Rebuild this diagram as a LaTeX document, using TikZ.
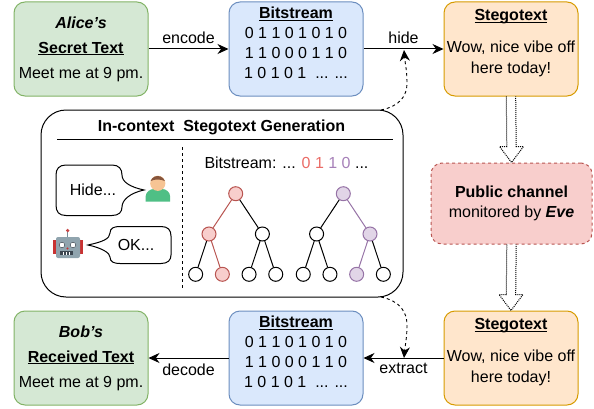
\documentclass[tikz,border=0pt]{standalone}
\usepackage{fontspec}
\setmainfont{Liberation Sans}
\usetikzlibrary{calc,arrows.meta}
\definecolor{greenfill}{HTML}{D5E8D4}
\definecolor{greenline}{HTML}{82B366}
\definecolor{bluefill}{HTML}{DAE8FC}
\definecolor{blueline}{HTML}{6C8EBF}
\definecolor{orangefill}{HTML}{FFE6CC}
\definecolor{orangeline}{HTML}{D79B00}
\definecolor{redfill}{HTML}{F8CECC}
\definecolor{redline}{HTML}{B85450}
\definecolor{purplefill}{HTML}{E1D5E7}
\definecolor{purpleline}{HTML}{9673A6}
\definecolor{redtext}{HTML}{EA6B66}
\definecolor{purpletext}{HTML}{A680B8}
\newcommand{\ultext}[1]{\underline{\smash{\textbf{#1}}}}
\begin{document}
\begin{tikzpicture}
	[x=1pt,y=1pt,>={Stealth[length=11pt,width=10pt]},line width=1pt,
	box/.style={draw,rounded corners=11pt,minimum width=134pt,minimum height=94pt,align=center,inner sep=0pt,
		font=\fontsize{16}{25}\selectfont},
	secretbox/.style={box,fill=greenfill,draw=greenline},
	bitbox/.style={box,fill=bluefill,draw=blueline,font=\fontsize{16}{20}\selectfont},
	stegobox/.style={box,fill=orangefill,draw=orangeline,font=\fontsize{16}{21}\selectfont},
	channelbox/.style={box,fill=redfill,draw=redline,dashed,minimum width=161pt,minimum height=81pt,font=\fontsize{16}{20}\selectfont},
	lbl/.style={font=\fontsize{16}{18}\selectfont,inner sep=0pt},
	flow/.style={->},
	link/.style={->,dashed,line width=0.9pt},
	tnode/.style={circle,draw=black,minimum size=14pt,inner sep=0pt,fill=white},
	rednode/.style={tnode,draw=redline,fill=redfill},
	purplenode/.style={tnode,draw=purpleline,fill=purplefill},
	rededge/.style={edge from parent/.style={draw=redline}},
	purpleedge/.style={edge from parent/.style={draw=purpleline}},
	blackedge/.style={edge from parent/.style={draw=black}},
	level 1/.style={level distance=40.3pt,sibling distance=53.4pt},
	level 2/.style={level distance=40.3pt,sibling distance=26.7pt}]
	\useasboundingbox (0,0) rectangle (594,408);
	% top row
	\node[secretbox] (alice) at (81,359) {\textbf{\textit{Alice's}}\\\ultext{Secret Text}\\Meet me at 9 pm.};
	\node[bitbox] (bitstop) at (296,359) {\ultext{Bitstream}\\0 1 1 0 1 0 1 0\\1 1 0 0 0 1 1 0\\1 0 1 0 1 \ ... ...};
	\node[stegobox] (stegotop) at (511,359) {\ultext{Stegotext}\\[11pt]Wow, nice vibe off\\here today!};
	% bottom row
	\node[secretbox] (bob) at (81,50) {\textbf{\textit{Bob's}}\\\ultext{Received Text}\\Meet me at 9 pm.};
	\node[bitbox] (bitsbot) at (296,50) {\ultext{Bitstream}\\0 1 1 0 1 0 1 0\\1 1 0 0 0 1 1 0\\1 0 1 0 1 \ ... ...};
	\node[stegobox] (stegobot) at (511,50) {\ultext{Stegotext}\\[11pt]Wow, nice vibe off\\here today!};
	\node[channelbox] (channel) at (511.5,204.5) {\textbf{Public channel}\\monitored by \textbf{\textit{Eve}}};
	% flows
	\draw[flow] (alice) -- node[lbl,above=5pt] {encode} (bitstop);
	\draw[flow] (bitstop) -- node[lbl,above=5pt] {hide} (stegotop);
	\draw[flow] (stegobot) -- node[lbl,below=5pt] {extract} (bitsbot);
	\draw[flow] (bitsbot) -- node[lbl,below=5pt] {decode} (bob);
	% public channel arrows
	\foreach \from/\to in {stegotop/channel,channel/stegobot}{
		\draw[dash pattern=on 1pt off 1pt,line width=1pt,fill=white] ($(\from.south)+(-4.7,0)$) -- ($(\to.north)+(-4.7,16)$) -- ($(\to.north)+(-12,16)$)
			-- (\to.north) -- ($(\to.north)+(12,16)$) -- ($(\to.north)+(4.7,16)$) -- ($(\from.south)+(4.7,0)$);
	}
	% generation panel
	\node[draw,rounded corners=25pt,minimum width=362pt,minimum height=187pt,line width=1pt] (panel) at (222,204.5) {};
	\node[lbl,font=\fontsize{16}{18}\selectfont\bfseries] (paneltitle) at (221.5,281) {In-context \ Stegotext Generation};
	\coordinate (ruleleft) at (57,269);
	\coordinate (ruleright) at (393,269);
	\draw (ruleleft) -- (ruleright);
	\coordinate (splittop) at (182,261);
	\coordinate (splitbot) at (182,120);
	\draw[dashed] (splittop) -- (splitbot);
	% dashed links
	\coordinate (hidepoint) at (404,358);
	\coordinate (extractpoint) at (404,50);
	\coordinate (paneltop) at (381,298);
	\coordinate (panelbot) at (381,111);
	\draw[link] (paneltop) .. controls (400,302) and (407,312) .. (407,325) .. controls (407,338) and (405,345) .. (hidepoint);
	\draw[link] (panelbot) .. controls (400,107) and (407,96) .. (407,83) .. controls (407,70) and (405,62) .. (extractpoint);
	% chat bubbles
	\draw (66,243) .. controls (59,243) and (56,239) .. (56,233) -- (56,203) .. controls (56,196) and (59,192.5) .. (66,192.5)
		-- (112,192.5) .. controls (119,192.5) and (122,196) .. (122,201) .. controls (122,208) and (130,215) .. (144,218)
		.. controls (130,221) and (122,226) .. (122,233) .. controls (122,239) and (119,243) .. (112,243) -- cycle;
	\node[lbl] (hidetext) at (93,218) {Hide...};
	\draw (120,181.5) .. controls (114,181.5) and (110,180) .. (110,175) .. controls (110,169) and (102,166) .. (88,163)
		.. controls (102,160) and (110,155) .. (110,151) .. controls (110,146) and (114,144.5) .. (120,144.5)
		-- (161,144.5) .. controls (168,144.5) and (171,148) .. (171,153) -- (171,172) .. controls (171,178) and (168,181.5) .. (161,181.5) -- cycle;
	\node[lbl] (oktext) at (136,163) {OK...};
	% user icon
	\fill[fill={rgb,255:red,79;green,191;blue,133}] (145.7,206.3) -- (145.7,212) .. controls (146,216) and (150,219) .. (154,219) -- (162,219)
		.. controls (166,219) and (170,216) .. (170,212) -- (170,206.3) -- cycle;
	\fill[fill={rgb,255:red,246;green,196;blue,148}] (157.8,224.7) circle (7.6);
	\fill[fill={rgb,255:red,135;green,85;blue,60}] (150.6,227) arc (160:20:7.6) .. controls (160,229) and (155,229) .. cycle;
	% robot icon
	\fill[fill={rgb,255:red,200;green,50;blue,50}] (53,154) rectangle (83,168);
	\draw[line width=1pt,color={rgb,255:red,120;green,144;blue,156}] (67.7,171) -- (67.7,177);
	\fill[fill={rgb,255:red,200;green,70;blue,70}] (67.7,177.5) circle (1.8);
	\fill[fill={rgb,255:red,144;green,164;blue,174},rounded corners=2pt] (56,150) rectangle (80,171);
	\fill[white,draw={rgb,255:red,70;green,80;blue,90},line width=0.5pt] (62,163) circle (2.8);
	\fill[white,draw={rgb,255:red,70;green,80;blue,90},line width=0.5pt] (73,163) circle (2.8);
	\fill[fill={rgb,255:red,200;green,50;blue,50}] (67.5,159.5) circle (1.2);
	\fill[fill={rgb,255:red,60;green,70;blue,80}] (60,153) rectangle (73,157);
	\foreach \tick in {63,66,69}{
		\fill[white] (\tick,153.5) rectangle (\tick+1.2,156.5);
	}
	% bitstream line
	\node[lbl,anchor=west] (bitline) at (204,245) {Bitstream: ... \textcolor{redtext}{0 1} \textcolor{purpletext}{1 0} ...};
	% trees
	\node[rednode] (lefttree) at (235.7,214.3) {}
	child[rededge]{
		node[rednode]{}
		child[blackedge]{node[tnode]{}}
		child[rededge]{node[rednode]{}}
	}
	child[blackedge]{
		node[tnode]{}
		child{node[tnode]{}}
		child{node[tnode]{}}
	};
	\node[purplenode] (righttree) at (343.3,214.3) {}
	child[blackedge]{
		node[tnode]{}
		child{node[tnode]{}}
		child{node[tnode]{}}
	}
	child[purpleedge]{
		node[purplenode]{}
		child[purpleedge]{node[purplenode]{}}
		child[blackedge]{node[tnode]{}}
	};
\end{tikzpicture}
\end{document}
